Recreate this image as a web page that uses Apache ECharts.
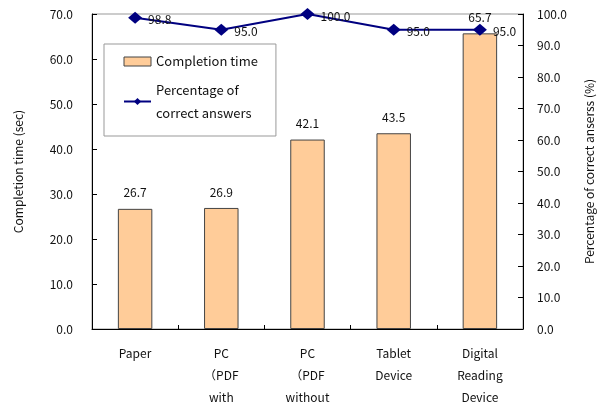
<!DOCTYPE html>
<html><head><meta charset="utf-8">
<script src="https://cdn.jsdelivr.net/npm/echarts@6/dist/echarts.min.js"></script>
<style>html,body{margin:0;padding:0;background:#fff}#c{width:604px;height:408px}</style>
</head><body><div id="c"></div>
<script>
const categories = ["Paper", "PC\n（PDF\nwith", "PC\n（PDF\nwithout", "Tablet\nDevice", "Digital\nReading\nDevice"];
const completionTime = [26.7, 26.9, 42.1, 43.5, 65.7];
const correctPct = [98.8, 95.0, 100.0, 95.0, 95.0];
const leftTicks = [0, 70, 10];
const rightTicks = [0, 100, 10];

const font = "'Noto Sans CJK JP', 'DejaVu Sans', sans-serif";
const chart = echarts.init(document.getElementById('c'));
chart.setOption({
  animation: false,
  textStyle: {fontFamily: font},
  grid: {left: 92, right: 81, top: 14, bottom: 77, show: true, borderColor: '#999', borderWidth: 1},
  legend: {
    left: 104, top: 44,
    orient: 'vertical', itemGap: -6,
    backgroundColor: '#fff', borderColor: '#999', borderWidth: 1,
    padding: [6, 18, 0, 19],
    itemWidth: 27, itemHeight: 9,
    textStyle: {fontSize: 13, color: '#111', fontFamily: font, lineHeight: 23},
    data: [
      {name: 'Completion time', icon: 'rect', itemStyle: {color: '#FFCC99', borderColor: '#444', borderWidth: 1}},
      {name: 'Percentage of\ncorrect answers', textStyle: {padding: [23, 0, 0, 0]}}
    ]
  },
  xAxis: {
    type: 'category', data: categories,
    axisLine: {lineStyle: {color: '#000'}},
    axisTick: {show: true, inside: true, length: 4, lineStyle: {color: '#000'}},
    axisLabel: {color: '#111', fontSize: 12, lineHeight: 22, margin: 13, interval: 0}
  },
  yAxis: [
    {
      type: 'value', min: leftTicks[0], max: leftTicks[1], interval: leftTicks[2],
      name: 'Completion time (sec)', nameLocation: 'middle', nameGap: 68, nameRotate: 90,
      nameTextStyle: {color: '#111', fontSize: 12},
      axisLine: {show: true, lineStyle: {color: '#000'}},
      axisTick: {show: true, inside: true, length: 5, lineStyle: {color: '#000'}},
      axisLabel: {color: '#111', fontSize: 12, margin: 19, formatter: v => v.toFixed(1)},
      splitLine: {show: false}
    },
    {
      type: 'value', min: rightTicks[0], max: rightTicks[1], interval: rightTicks[2],
      name: 'Percentage of correct anserss (%)', nameLocation: 'middle', nameGap: 60, nameRotate: 90,
      nameTextStyle: {color: '#111', fontSize: 12},
      axisLine: {show: true, lineStyle: {color: '#000'}},
      axisTick: {show: true, inside: true, length: 5, lineStyle: {color: '#000'}},
      axisLabel: {color: '#111', fontSize: 12, margin: 14, formatter: v => v.toFixed(1)},
      splitLine: {show: false}
    }
  ],
  series: [
    {
      name: 'Completion time', type: 'bar', data: completionTime, yAxisIndex: 0,
      barWidth: '40%',
      itemStyle: {color: '#FFCC99', borderColor: '#444', borderWidth: 1},
      label: {show: true, position: 'top', distance: 10, color: '#111', fontSize: 12, formatter: p => p.value.toFixed(1)}
    },
    {
      name: 'Percentage of\ncorrect answers', type: 'line', data: correctPct, yAxisIndex: 1,
      symbol: 'diamond', symbolSize: [14, 12],
      lineStyle: {color: '#000080', width: 2},
      itemStyle: {color: '#000080'},
      label: {show: true, position: 'right', distance: 6, offset: [0, 2], color: '#111', fontSize: 12, formatter: p => p.value.toFixed(1)},
      z: 5
    }
  ]
});
</script></body></html>
